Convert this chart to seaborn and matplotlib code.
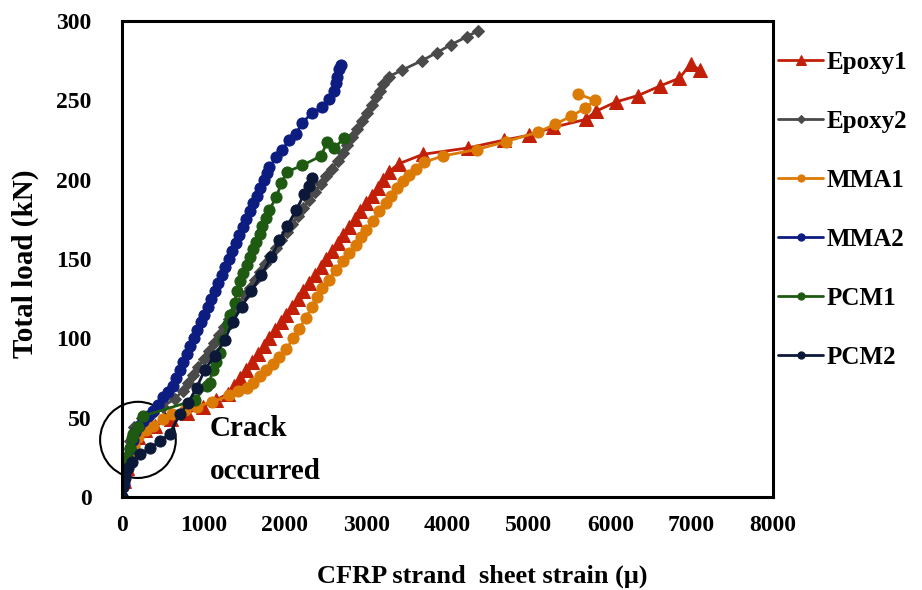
import matplotlib
matplotlib.use("Agg")
import matplotlib.pyplot as plt
import seaborn as sns
import pandas as pd
from matplotlib.patches import Ellipse

# ---------------- data ----------------
epoxy1_x = [0, 30, 60, 100, 150, 200, 280, 400, 600, 800, 1000, 1150, 1300, 1380, 1450, 1520,
            1600, 1670, 1740, 1810, 1880, 1950, 2020, 2090, 2160, 2230, 2300, 2370, 2440, 2510,
            2580, 2650, 2720, 2790, 2860, 2930, 3000, 3070, 3140, 3210, 3280, 3400, 3700, 4250,
            4700, 5000, 5300, 5700, 5820, 6070, 6340, 6610, 6850, 6990, 7100]
epoxy1_y = [0, 10, 18, 25, 32, 38, 42, 45, 49, 53, 57, 61, 65, 70, 75, 80,
            85, 90, 95, 100, 105, 110, 115, 120, 125, 130, 135, 140, 145, 150,
            155, 160, 165, 170, 175, 180, 185, 190, 195, 200, 205, 210, 216, 220,
            225, 228, 233, 238, 243, 249, 253, 259, 264, 273, 269]

epoxy2_x = [0, 30, 60, 100, 150, 250, 380, 500, 650, 750, 813, 876, 939, 1002, 1065, 1128,
            1191, 1254, 1317, 1380, 1443, 1506, 1569, 1632, 1695, 1758, 1821, 1889, 1957, 2025,
            2093, 2161, 2229, 2300, 2370, 2440, 2510, 2580, 2650, 2710, 2770, 2830, 2890, 2950,
            3010, 3070, 3120, 3170, 3210, 3280, 3440, 3684, 3868, 4040, 4235, 4380]
epoxy2_y = [0, 12, 25, 35, 44, 50, 53, 57, 62, 67, 72, 77, 82, 87, 92, 97,
            102, 107, 112, 117, 122, 127, 132, 137, 142, 147, 152, 157, 162, 167,
            172, 177, 182, 187, 192, 197, 202, 207, 212, 217, 222, 227, 232, 237,
            242, 247, 252, 256, 260, 265, 269, 275, 280, 285, 290, 294]

mma1_x = [0, 30, 60, 100, 150, 200, 300, 380, 500, 620, 770, 920, 1110, 1320, 1430, 1530,
          1610, 1690, 1770, 1850, 1930, 2020, 2100, 2180, 2260, 2340, 2400, 2460, 2540, 2630,
          2710, 2790, 2870, 2940, 3000, 3080, 3160, 3240, 3310, 3380, 3450, 3525, 3610, 3710,
          3950, 4360, 4720, 5116, 5324, 5520, 5690, 5814, 5606]
mma1_y = [0, 10, 18, 25, 32, 38, 42, 45, 49, 52, 55, 57, 60, 64, 67, 69,
          72, 76, 80, 84, 88, 93, 100, 106, 113, 120, 126, 132, 137, 143,
          149, 154, 159, 164, 168, 174, 180, 185, 190, 195, 199, 203, 207, 211,
          215, 219, 224, 230, 235, 240, 245, 250, 254]

mma2_x = [0, 20, 40, 60, 98, 130, 160, 210, 257, 320, 380, 440, 500, 560, 624, 667,
          710, 753, 796, 839, 882, 925, 968, 1011, 1053, 1096, 1139, 1182, 1225, 1268,
          1311, 1354, 1397, 1440, 1483, 1526, 1569, 1612, 1655, 1698, 1741, 1780, 1811, 1897,
          1970, 2056, 2142, 2215, 2338, 2460, 2546, 2607, 2630, 2644, 2668, 2693]
mma2_y = [0, 8, 15, 22, 30, 36, 41, 45, 48, 51, 54, 58, 63, 66, 70, 75,
          80, 85, 90, 95, 100, 105, 110, 115, 120, 125, 130, 135, 140, 145,
          150, 155, 160, 165, 170, 175, 180, 185, 190, 195, 200, 204, 208, 214,
          219, 225, 229, 236, 242, 246, 251, 256, 261, 265, 270, 272]

pcm1_x = [0, 12, 61, 98, 122, 135, 196, 257, 894, 1040, 1077, 1114, 1150, 1200,
          1236, 1297, 1330, 1383, 1408, 1450, 1481, 1530, 1567, 1610, 1652, 1690, 1726, 1770,
          1811, 1897, 1958, 2032, 2215, 2448, 2521, 2607, 2730]
pcm1_y = [0, 17, 25, 31, 37, 40, 44, 51, 61, 70, 72, 80, 85, 91,
          99, 109, 115, 122, 130, 136, 141, 146, 151, 156, 161, 166, 171, 176,
          181, 189, 198, 205, 209, 215, 224, 220, 226]

pcm2_x = [0, 12, 37, 73, 122, 220, 343, 465, 587, 710, 808, 918, 1016, 1138, 1261, 1359,
          1469, 1591, 1714, 1836, 1934, 2032, 2142, 2240, 2301, 2338]
pcm2_y = [0, 6, 12, 18, 22, 27, 31, 35, 40, 52, 59, 69, 80, 89, 99, 110,
          120, 130, 140, 151, 162, 171, 181, 191, 196, 201]

series_names = ["Epoxy1", "Epoxy2", "MMA1", "MMA2", "PCM1", "PCM2"]
series_x = [epoxy1_x, epoxy2_x, mma1_x, mma2_x, pcm1_x, pcm2_x]
series_y = [epoxy1_y, epoxy2_y, mma1_y, mma2_y, pcm1_y, pcm2_y]

x_ticks = [0, 1000, 2000, 3000, 4000, 5000, 6000, 7000, 8000]
y_ticks = [0, 50, 100, 150, 200, 250, 300]

# ---------------- styles ----------------
colors = {"Epoxy1": "#C21F08", "Epoxy2": "#4A4A4A", "MMA1": "#DB7A05",
          "MMA2": "#0C1C80", "PCM1": "#1E5A12", "PCM2": "#0B1838"}
markers = {"Epoxy1": "^", "Epoxy2": "D", "MMA1": "o", "MMA2": "o", "PCM1": "o", "PCM2": "o"}
msizes = {"Epoxy1": 10, "Epoxy2": 6.5, "MMA1": 8, "MMA2": 8, "PCM1": 8, "PCM2": 8}

sns.set_theme(style="white")
plt.rcParams["font.family"] = ["Liberation Serif", "DejaVu Serif"]
plt.rcParams["font.weight"] = "bold"
for key in ["text.color", "axes.labelcolor", "xtick.color", "ytick.color", "axes.edgecolor"]:
    plt.rcParams[key] = "black"

fig = plt.figure(figsize=(9.22, 5.90), dpi=100)
ax = fig.add_axes([122 / 922, 1 - 497 / 590, (773 - 122) / 922, (497 - 21) / 590])

frames = []
for name, xs, ys in zip(series_names, series_x, series_y):
    frames.append(pd.DataFrame({"strain": xs, "load": ys, "specimen": name}))
df = pd.concat(frames, ignore_index=True)

for name in series_names:
    sub = df[df["specimen"] == name]
    sns.lineplot(data=sub, x="strain", y="load", sort=False, estimator=None,
                 color=colors[name], marker=markers[name], markersize=msizes[name],
                 markeredgecolor=colors[name], linewidth=2, ax=ax, label=name)

ax.set_xlim(0, 8000)
ax.set_ylim(0, 300)
ax.set_xticks(x_ticks)
ax.set_yticks(y_ticks)
ax.set_xticklabels([str(v) for v in x_ticks], fontsize=17, fontweight="bold")
ax.set_yticklabels([str(v) for v in y_ticks], fontsize=17, fontweight="bold")
ax.tick_params(axis="x", direction="in", length=7, width=1, pad=13, colors="black")
ax.tick_params(axis="y", direction="in", length=7, width=1, pad=22, colors="black")
for sp in ax.spines.values():
    sp.set_linewidth(2.2)
    sp.set_color("black")

ax.set_xlabel("CFRP strand  sheet strain (μ)", fontsize=19, fontweight="bold")
ax.set_ylabel("Total load (kN)", fontsize=21, fontweight="bold")
ax.xaxis.set_label_coords(0.553, -0.143)
ax.yaxis.set_label_coords(-0.127, 0.49)

# crack annotation
ax.add_patch(Ellipse((196, 36), width=930, height=48, fill=False, edgecolor="black",
                     linewidth=1.5, clip_on=False))
ax.text(1077, 43, "Crack", fontsize=21, fontweight="bold", ha="left", va="center")
ax.text(1077, 16, "occurred", fontsize=21, fontweight="bold", ha="left", va="center")

ax.get_legend().remove()
h, l = ax.get_legend_handles_labels()
leg = fig.legend(h, l, loc="upper left", bbox_to_anchor=(778 / 922, 1 - 51 / 590),
                 frameon=False, fontsize=18, markerscale=0.65, handlelength=1.8,
                 handletextpad=0.15, labelspacing=1.44, borderaxespad=0, borderpad=0)
for t in leg.get_texts():
    t.set_fontweight("bold")

fig.savefig("out.png", dpi=100)
